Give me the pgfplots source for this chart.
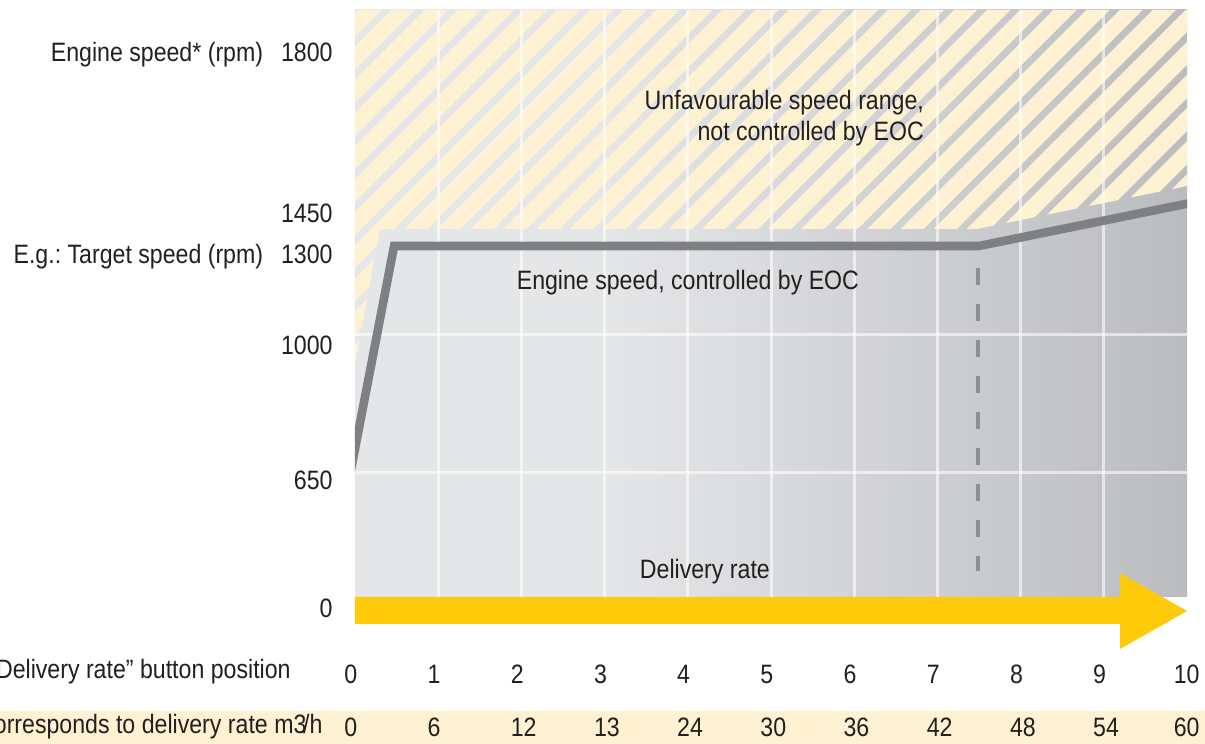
\documentclass[border=0pt]{standalone}
\usepackage{pgfplots}
\pgfplotsset{compat=1.18}
\usepackage{fontspec}
\setmainfont[FakeStretch=0.87]{Liberation Sans}
\usetikzlibrary{patterns.meta}
\definecolor{gL}{HTML}{E5E6E8}
\definecolor{gR}{HTML}{BBBCBF}
\definecolor{hatchY}{HTML}{FEF2D2}
\definecolor{lineG}{HTML}{7F8083}
\definecolor{dashG}{HTML}{8E8F92}
\definecolor{arrowY}{HTML}{FFCA0A}
\definecolor{txt}{HTML}{231F20}
\pgfdeclarehorizontalshading{bgshade}{100bp}{color(0bp)=(gL); color(40bp)=(gL); color(75bp)=(gR); color(100bp)=(gR)}
\newcommand{\chartfont}{\fontsize{13.3}{15.5}\selectfont}
\frenchspacing
\begin{document}
\begin{tikzpicture}[font=\chartfont]
\useasboundingbox (0,0) rectangle (602.5pt,372pt);
\begin{axis}[
  at={(177.5pt,47.5pt)}, anchor=south west,
  scale only axis, width=416pt, height=319.5pt,
  xmin=0, xmax=10, ymin=95, ymax=734, enlargelimits=false,
  clip mode=individual, axis on top=true,
  axis line style={draw=none}, major tick length=0pt,
  tick label style={font=\chartfont, text=txt},
  xtick={0,...,9},
  xticklabels={{0\\[11pt]0},{1\\[11pt]6},{2\\[11pt]12},{3\\[11pt]13},{4\\[11pt]24},{5\\[11pt]30},{6\\[11pt]36},{7\\[11pt]42},{8\\[11pt]48},{9\\[11pt]54}},
  xticklabel style={align=left, anchor=north west, inner sep=0pt, xshift=-5.5pt, yshift=-8pt},
  extra x ticks={10},
  extra x tick labels={{10\\[11pt]60}},
  extra x tick style={xticklabel style={align=right, anchor=north east, xshift=12pt}},
  ytick={136,264,399,487,531,689},
  yticklabels={0,650,1000,{E.g.: Target speed (rpm)\hspace{9pt}1300},1450,{Engine speed* (rpm)\hspace{9pt}1800}},
  yticklabel style={anchor=east, inner sep=0pt, xshift=-11pt},
]
% yellow band behind delivery rate row
\fill[hatchY] (-4.2668,0) rectangle (10.2163,33);
% background gradient
\shade[shading=bgshade] (0,147) rectangle (10,734);
% unfavourable range hatch
\fill[pattern={Lines[angle=45,distance=11.7pt,line width=8.2pt]}, pattern color=hatchY]
  (0,734) -- (10,734) -- (10,558) -- (7.476,515) -- (0.300,515) -- (0,379) -- cycle;
% grid
\pgfplotsinvokeforeach{1,...,9}{\draw[white, opacity=0.6, line width=1.5pt] (#1,147) -- (#1,734);}
\draw[white, opacity=0.6, line width=1.5pt] (0,409) -- (10,409);
\draw[white, opacity=0.6, line width=1.5pt] (0,271) -- (10,271);
% engine speed controlled by EOC
\addplot[lineG, line width=4.3pt, line join=miter] coordinates {(-0.1,252) (0.47,498) (7.5,498) (10.1,542)};
% dashed marker
\addplot[dashG, line width=2pt, dash pattern=on 8.5pt off 9.5pt] coordinates {(7.49,476) (7.49,173)};
% delivery rate arrow
\addplot[fill=arrowY, draw=none] coordinates {(0,120) (9.195,120) (9.195,95) (10,133) (9.195,171) (9.195,147) (0,147)} --cycle;
% texts
\node[anchor=east, align=right, text=txt] at (6.923,625.5) {Unfavourable speed range,\\not controlled by EOC};
\node[anchor=west, text=txt] at (1.86,461) {Engine speed, controlled by EOC};
\node[anchor=west, text=txt] at (3.34,172) {Delivery rate};
\node[anchor=east, text=txt, inner sep=0pt] at (-0.769,72) {“Delivery rate” button position};
\node[anchor=east, text=txt, inner sep=0pt] at (-0.385,17) {Corresponds to delivery rate m3\kern-0.12em/h};
\end{axis}
\end{tikzpicture}
\end{document}
